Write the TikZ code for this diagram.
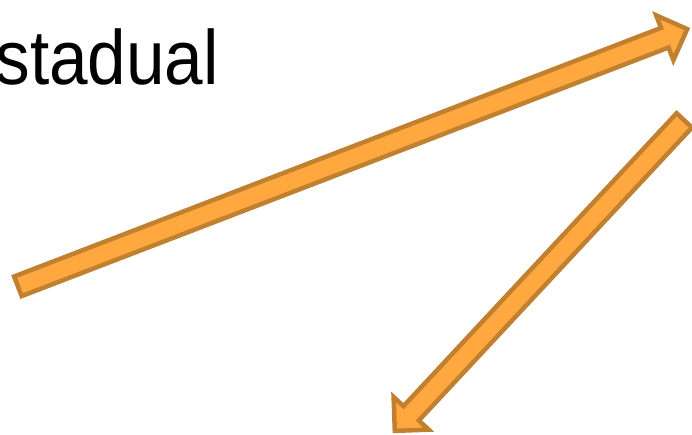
\documentclass[tikz,border=0pt]{standalone}
\usepackage{fontspec}
\setmainfont{Liberation Sans}
\definecolor{arrfill}{RGB}{255,168,64}
\definecolor{arrline}{RGB}{192,128,48}
\tikzset{
  blockarrow/.style={fill=arrfill, draw=arrline, line width=4.5pt, line join=miter, miter limit=10},
  bigtext/.style={font=\fontsize{77}{77}\selectfont, inner sep=0pt, anchor=base west}
}
\begin{document}
\begin{tikzpicture}[x=1pt,y=1pt]
\useasboundingbox (0,0) rectangle (692,434);
\node[bigtext] (title) at (-4.8,349) {\scalebox{0.9}[1]{stadual}};
% arrow 1: from lower left to upper right
\coordinate (a1s) at (17.9,147.7);
\begin{scope}[shift={(a1s)}, rotate=21.02]
  \draw[blockarrow] (0,-10.5) -- (693,-10.5) -- (693,-24) -- (717,0) -- (693,24) -- (693,10.5) -- (0,10.5) -- cycle;
\end{scope}
% arrow 2: from upper right to lower left
\coordinate (a2s) at (684.3,313.6);
\begin{scope}[shift={(a2s)}, rotate=227.0]
  \draw[blockarrow] (0,-10.5) -- (400.5,-10.5) -- (400.5,-24) -- (424.5,0) -- (400.5,24) -- (400.5,10.5) -- (0,10.5) -- cycle;
\end{scope}
\end{tikzpicture}
\end{document}
